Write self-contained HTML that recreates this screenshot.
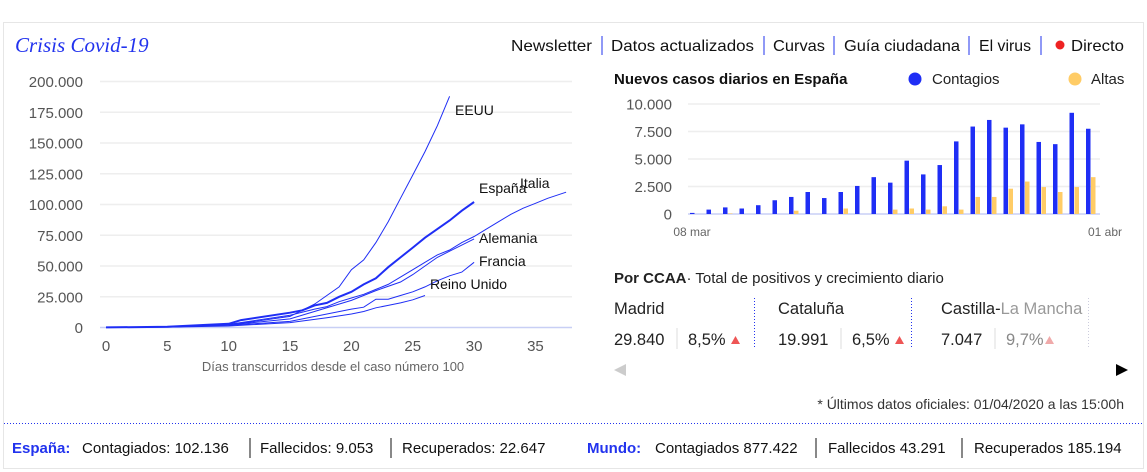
<!DOCTYPE html>
<html><head><meta charset="utf-8"><style>
body{margin:0;background:#fff;width:1147px;height:472px;overflow:hidden}
svg{display:block;font-family:"Liberation Sans",sans-serif}
</style></head><body>
<svg id="s" width="1147" height="472" viewBox="0 0 1147 472">
<rect x="3.5" y="22.5" width="1140" height="446" fill="#fff" stroke="#e6e6e6"/>
<text x="15" y="52" font-family="Liberation Serif,serif" font-style="italic" font-size="21" fill="#2233ee">Crisis Covid-19</text>
<g font-size="16" fill="#111">
<text x="511" y="51" textLength="81" lengthAdjust="spacingAndGlyphs">Newsletter</text>
<text x="611" y="51" textLength="143" lengthAdjust="spacingAndGlyphs">Datos actualizados</text>
<text x="773" y="51" textLength="52" lengthAdjust="spacingAndGlyphs">Curvas</text>
<text x="844" y="51" textLength="116" lengthAdjust="spacingAndGlyphs">Guía ciudadana</text>
<text x="979" y="51" textLength="52" lengthAdjust="spacingAndGlyphs">El virus</text>
<text x="1071" y="51" textLength="53" lengthAdjust="spacingAndGlyphs">Directo</text>
</g>
<g stroke="#2233ee" stroke-width="1">
<line x1="602" y1="36" x2="602" y2="55"/><line x1="764" y1="36" x2="764" y2="55"/><line x1="834" y1="36" x2="834" y2="55"/><line x1="969" y1="36" x2="969" y2="55"/><line x1="1041" y1="36" x2="1041" y2="55"/>
</g>
<circle cx="1060" cy="45" r="4.5" fill="#ee2222"/>
<g id="lc"></g>
<g id="bc"></g>
<text x="614" y="84" font-size="15" font-weight="bold" fill="#111">Nuevos casos diarios en España</text>
<circle cx="915" cy="79" r="6.5" fill="#1f2ef5"/><text x="932" y="84" font-size="15" fill="#222">Contagios</text>
<circle cx="1075" cy="79" r="6.5" fill="#ffcc66"/><text x="1091" y="84" font-size="15" fill="#222">Altas</text>
<text x="614" y="283" font-size="15" fill="#222"><tspan font-weight="bold">Por CCAA</tspan>· Total de positivos y crecimiento diario</text>
<g font-size="16.5" fill="#222">
<text x="614" y="314">Madrid</text><text x="614" y="345">29.840</text><text x="688" y="345">8,5%</text>
<text x="778" y="314">Cataluña</text><text x="778" y="345">19.991</text><text x="852" y="345">6,5%</text>
<text x="941" y="314">Castilla-<tspan fill="#999">La Mancha</tspan></text><text x="941" y="345">7.047</text><text x="1006" y="345" fill="#888">9,7%</text>
</g>
<g stroke="#ddd"><line x1="677" y1="328" x2="677" y2="349"/><line x1="841" y1="328" x2="841" y2="349"/><line x1="995" y1="328" x2="995" y2="349"/></g>
<g stroke="#2233ee" stroke-dasharray="1,2"><line x1="754.5" y1="298" x2="754.5" y2="349"/><line x1="911.5" y1="298" x2="911.5" y2="349"/></g>
<line x1="1088.5" y1="298" x2="1088.5" y2="349" stroke="#ccd" stroke-dasharray="1,2"/>
<polygon points="731,344 740,344 735.5,336" fill="#e55"/><polygon points="895,344 904,344 899.5,336" fill="#e55"/><polygon points="1045,344 1054,344 1049.5,336" fill="#f0aaaa"/>
<polygon points="626,364 614,370 626,376" fill="#ccc"/><polygon points="1116,364 1128,370 1116,376" fill="#000"/>
<text x="1124" y="409" font-size="14" fill="#333" text-anchor="end">* Últimos datos oficiales: 01/04/2020 a las 15:00h</text>
<line x1="4" y1="423.5" x2="1143" y2="423.5" stroke="#2233ee" stroke-dasharray="1,2"/>
<g font-size="15" fill="#111">
<text x="12" y="453" font-weight="bold" fill="#2233ee">España:</text>
<text x="82" y="453">Contagiados: 102.136</text><text x="260" y="453">Fallecidos: 9.053</text><text x="402" y="453">Recuperados: 22.647</text>
<text x="587" y="453" font-weight="bold" fill="#2233ee">Mundo:</text>
<text x="655" y="453">Contagiados 877.422</text><text x="828" y="453">Fallecidos 43.291</text><text x="974" y="453">Recuperados 185.194</text>
</g>
<g stroke="#111"><line x1="250" y1="438" x2="250" y2="458"/><line x1="391" y1="438" x2="391" y2="458"/><line x1="816" y1="438" x2="816" y2="458"/><line x1="962" y1="438" x2="962" y2="458"/></g>
</svg>
<script>
var NS="http://www.w3.org/2000/svg";
function el(p,t,a,txt){var e=document.createElementNS(NS,t);for(var k in a)e.setAttribute(k,a[k]);if(txt!=null)e.textContent=txt;p.appendChild(e);return e;}
var lc=document.getElementById("lc");
var X=function(d){return 106+d*12.27},Y=function(v){return 327.5-v*0.00123};
var labs=["0","25.000","50.000","75.000","100.000","125.000","150.000","175.000","200.000"];
for(var i=0;i<9;i++){var y=Y(i*25000);el(lc,"line",{x1:100,x2:572,y1:y,y2:y,stroke:i?"#eee":"#c8cff5","stroke-width":1.5});
el(lc,"text",{x:83,y:y+5.5,"text-anchor":"end","font-size":15,fill:"#555"},labs[i]);}
for(var d=0;d<=35;d+=5)el(lc,"text",{x:X(d),y:351,"text-anchor":"middle","font-size":15,fill:"#555"},d);
el(lc,"text",{x:333,y:371,"text-anchor":"middle","font-size":13,fill:"#666"},"Días transcurridos desde el caso número 100");
var S={
EEUU:{k:{0:100,5:500,10:2000,15:9000,17:19000,19:33000,20:47000,21:55000,22:69000,23:86000,24:105000,25:124000,26:143000,27:164000,28:188000}},
Esp:{w:2,k:{0:100,5:600,10:3000,11:6000,15:12000,16:14000,17:18000,18:20000,19:25000,20:29000,21:35000,22:40000,23:49000,24:57000,25:65000,26:73000,27:80000,28:87000,29:95000,30:102000}},
Ita:{k:{0:100,5:500,10:2500,15:10000,17:15000,18:17000,19:21000,20:24000,21:27000,22:31000,23:35000,24:41000,25:47000,26:53000,27:59000,28:63000,29:69000,30:74000,31:80000,32:86000,33:92000,34:97000,35:101000,36:105000,37.5:110000}},
Ale:{k:{0:100,5:400,10:2000,15:7000,20:22000,22:30000,24:37000,25:43000,26:50000,27:57000,28:62000,30:72000}},
Fra:{k:{0:100,5:400,10:1800,15:5000,20:15000,21:16500,22:23000,23:23000,24:26000,25:29000,26:33000,27:38000,28:42000,29:45000,30:53000}},
UK:{k:{0:100,5:300,10:1200,15:4000,18:8000,20:11000,21:13000,22:16000,23:18000,24:20000,25:22500,26:26000}}};
for(var s in S){var ks=S[s].k,keys=Object.keys(ks).map(Number).sort(function(a,b){return a-b}),p="";
keys.forEach(function(d,j){p+=(j?"L":"M")+X(d).toFixed(1)+","+Y(ks[d]).toFixed(1);});
el(lc,"path",{d:p,fill:"none",stroke:"#1f2ef5","stroke-width":S[s].w||1});}
var L=[["EEUU",455,115],["España",479,193],["Italia",520,188],["Alemania",479,243],["Francia",479,266],["Reino Unido",430,289]];
L.forEach(function(l){el(lc,"text",{x:l[1],y:l[2],"font-size":14,fill:"#111"},l[0]);});
var bc=document.getElementById("bc");
var by=function(v){return 214-v*0.011};
var bl=["0","2.500","5.000","7.500","10.000"];
for(var i=0;i<5;i++){var y=by(i*2500);el(bc,"line",{x1:688,x2:1100,y1:y,y2:y,stroke:i?"#eee":"#c8cff5","stroke-width":1.5});
el(bc,"text",{x:672,y:y+5.5,"text-anchor":"end","font-size":15,fill:"#555"},bl[i]);}
var B=[100,400,600,500,800,1250,1550,2000,1450,2000,2550,3350,2850,4850,3600,4450,6600,7950,8550,7850,8150,6550,6350,9200,7750];
var A=[0,0,50,0,0,0,300,0,0,500,0,0,400,500,400,700,400,1550,1550,2300,2950,2450,2000,2450,3350];
for(var i=0;i<25;i++){var x=690+i*16.5;
el(bc,"rect",{x:x,y:by(B[i]),width:4.5,height:B[i]*0.011,fill:"#1f2ef5"});
if(A[i])el(bc,"rect",{x:x+5,y:by(A[i]),width:4.5,height:A[i]*0.011,fill:"#ffcc66"});}
el(bc,"text",{x:692,y:236,"text-anchor":"middle","font-size":12,fill:"#666"},"08 mar");
el(bc,"text",{x:1122,y:236,"text-anchor":"end","font-size":12,fill:"#666"},"01 abr");
</script>
</body></html>
